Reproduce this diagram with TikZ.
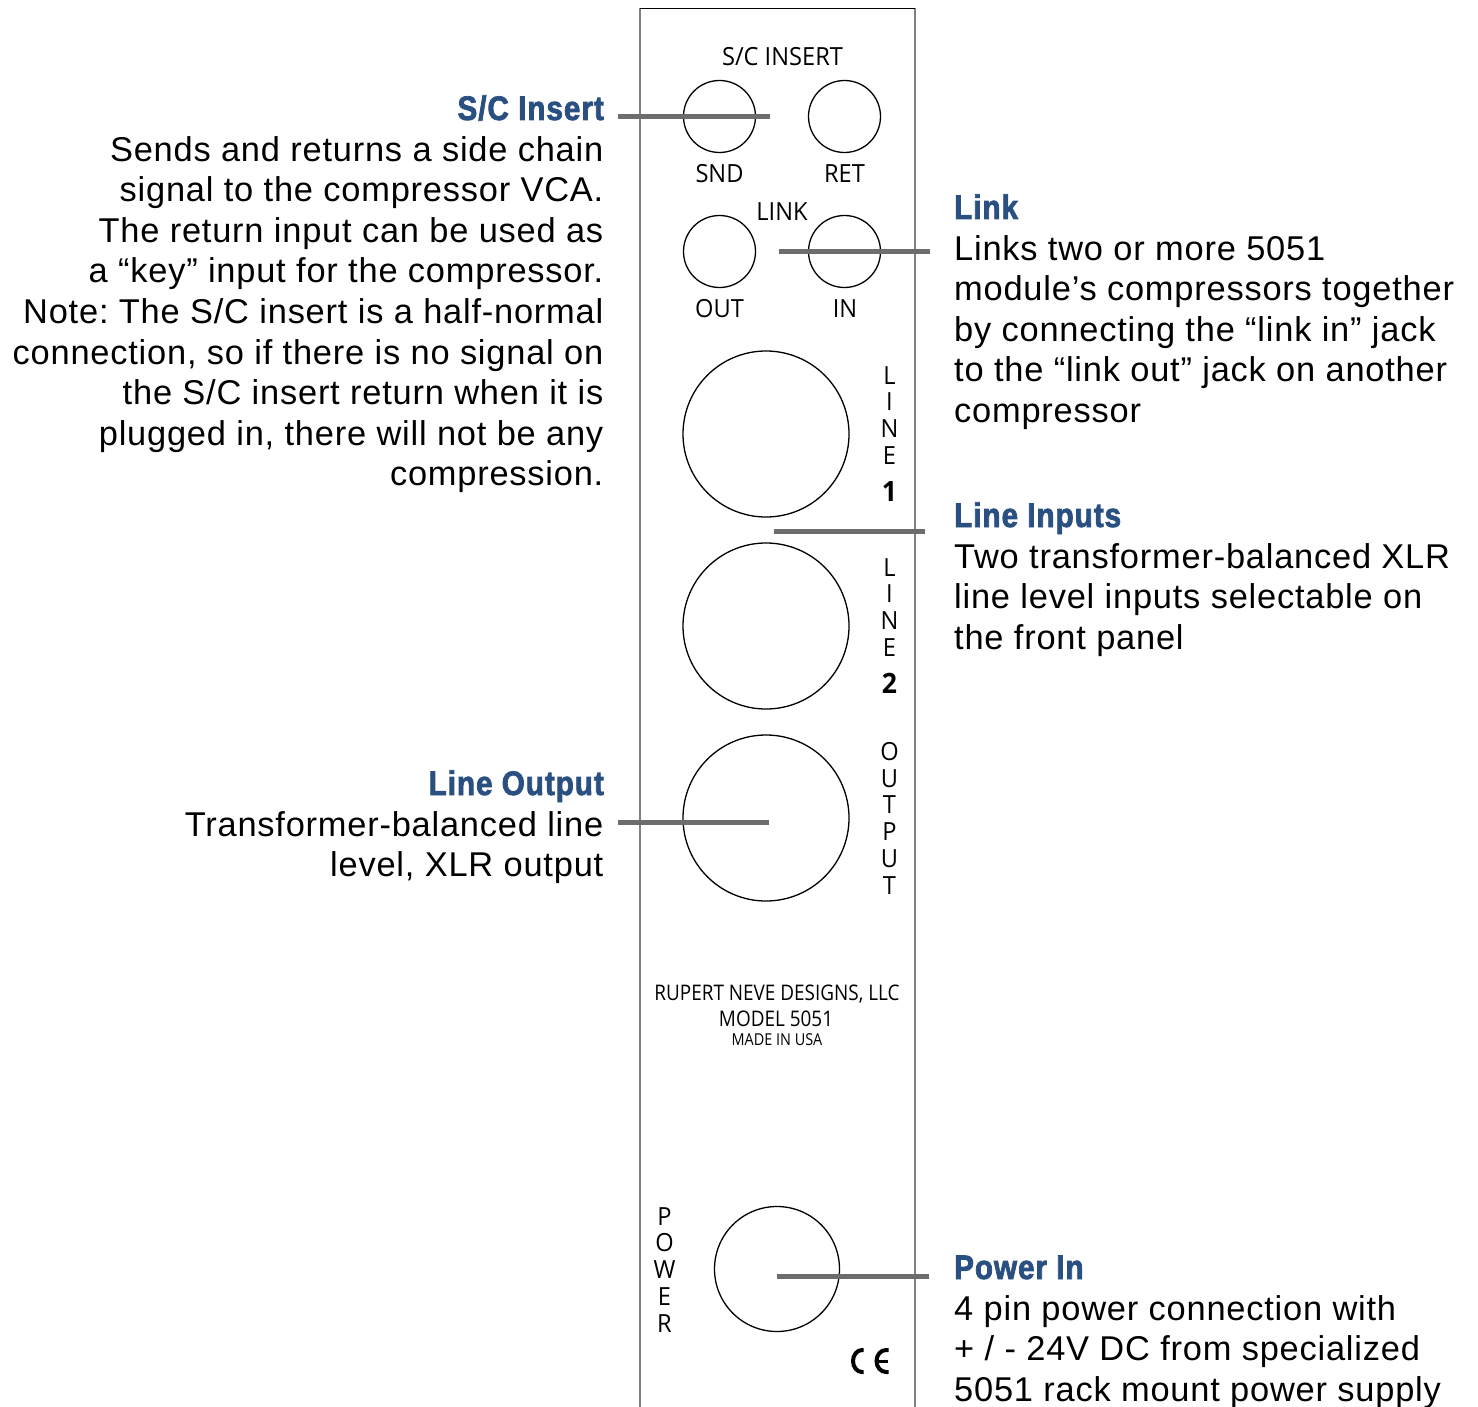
\documentclass[tikz,border=0pt]{standalone}
\usepackage{fontspec}
\setmainfont[LetterSpace=2.3]{Liberation Sans}
\newfontfamily\headf[FakeStretch=0.87,FakeBold=2.2,LetterSpace=3]{Liberation Sans Bold}
\newfontfamily\panelf[FakeStretch=0.945]{Open Sans}
\newfontfamily\panelc[FakeStretch=0.88]{Open Sans}
\newfontfamily\panelb[FakeStretch=0.95]{Open Sans Bold}
\definecolor{headblue}{HTML}{2A5082}
\definecolor{leader}{HTML}{6D6D6D}
\definecolor{panelside}{HTML}{808080}
\tikzset{
  x=1pt,y=-1pt,
  jack/.style={circle,draw=black,line width=1.3pt,inner sep=0pt,fill=none},
  heading/.style={inner sep=0pt,text=headblue,font=\headf\fontsize{34}{34}\selectfont},
  bodyr/.style={inner sep=0pt,anchor=north east,align=right,font=\fontsize{34.4}{40.6}\selectfont\frenchspacing},
  bodyl/.style={inner sep=0pt,anchor=north west,align=left,font=\fontsize{34.4}{40.6}\selectfont\frenchspacing},
  plabel/.style={inner sep=0pt,anchor=base,font=\panelf\fontsize{25}{25}\selectfont},
  pstack/.style={inner sep=0pt,anchor=north,align=center,font=\panelf\fontsize{25}{26.8}\selectfont},
  leaderline/.style={draw=leader,line width=5pt},
  cemark/.style={draw=black,line width=4pt},
}
\begin{document}
\begin{tikzpicture}
\useasboundingbox (0,0) rectangle (1478,1407);
% panel
\coordinate (pbl) at (639.5,1407);
\coordinate (ptl) at (639.5,8.5);
\coordinate (ptr) at (915,8.5);
\coordinate (pbr) at (915,1407);
\draw[panelside,line width=2pt] (pbl) -- (ptl) (ptr) -- (pbr);
\draw[black,line width=1.2pt] (ptl) -- (ptr);
% jacks
\node[jack,minimum size=72pt] (snd) at (719.5,116.5) {};
\node[jack,minimum size=72pt] (ret) at (844.5,116.5) {};
\node[jack,minimum size=72pt] (out) at (719.5,251.5) {};
\node[jack,minimum size=72pt] (in) at (844.5,251.5) {};
\node[jack,minimum size=166pt] (lineone) at (766,434) {};
\node[jack,minimum size=166pt] (linetwo) at (766,626) {};
\node[jack,minimum size=166pt] (output) at (766,818) {};
\node[jack,minimum size=125pt] (power) at (777,1269) {};
% panel labels
\node[plabel] (tsc) at (782.5,65.5) {S/C INSERT};
\node[plabel] (tsnd) at (719.5,182.5) {SND};
\node[plabel] (tret) at (844.5,182.5) {RET};
\node[plabel] (tlink) at (782,221) {LINK};
\node[plabel] (tout) at (719.5,317.5) {OUT};
\node[plabel] (tin) at (845,317.5) {IN};
\node[pstack] (tl1) at (889.5,366) {L\\I\\N\\E};
\node[inner sep=0pt,anchor=base,font=\panelb\fontsize{28}{28}\selectfont] (tl1n) at (889.5,501) {1};
\node[pstack] (tl2) at (889.5,558) {L\\I\\N\\E};
\node[inner sep=0pt,anchor=base,font=\panelb\fontsize{28}{28}\selectfont] (tl2n) at (889.5,693) {2};
\node[pstack] (tout2) at (889.5,742) {O\\U\\T\\P\\U\\T};
\node[pstack] (tpow) at (664.5,1207) {P\\O\\W\\E\\R};
\node[inner sep=0pt,anchor=base,font=\panelc\fontsize{21.5}{21.5}\selectfont] (trn) at (777,1000) {RUPERT NEVE DESIGNS, LLC};
\node[inner sep=0pt,anchor=base,font=\panelc\fontsize{21.5}{21.5}\selectfont] (tmod) at (776,1026) {MODEL 5051};
\node[inner sep=0pt,anchor=base,font=\panelc\fontsize{16.4}{16.4}\selectfont] (tusa) at (777,1045) {MADE IN USA};
% CE mark
\draw[cemark] (863.5,1350) -- (862,1350) arc[start angle=90,end angle=270,x radius=9,y radius=-11] -- (863.5,1372);
\draw[cemark] (888.5,1350) -- (886,1350) arc[start angle=90,end angle=270,x radius=9.5,y radius=-11] -- (888.5,1372);
\draw[draw=black,line width=3pt] (878,1361) -- (888,1361);
% leaders
\coordinate (a1) at (618,116.5); \coordinate (a2) at (770,116.5);
\coordinate (b1) at (779,251.5); \coordinate (b2) at (930,251.5);
\coordinate (c1) at (774,531); \coordinate (c2) at (925,531);
\coordinate (d1) at (618,822); \coordinate (d2) at (769,822);
\coordinate (e1) at (777,1276); \coordinate (e2) at (929,1276);
\draw[leaderline] (a1) -- (a2);
\draw[leaderline] (b1) -- (b2);
\draw[leaderline] (c1) -- (c2);
\draw[leaderline] (d1) -- (d2);
\draw[leaderline] (e1) -- (e2);
% left texts
\node[heading,anchor=base east] (h1) at (604,120) {S/C Insert};
\node[bodyr] (t1) at (603.5,136) {Sends and returns a side chain\\
signal to the compressor VCA.\\
The return input can be used as\\
a “key” input for the compressor.\\
Note: The S/C insert is a half-normal\\
connection, so if there is no signal on\\
the S/C insert return when it is\\
plugged in, there will not be any\\
compression.};
\node[heading,anchor=base east] (h2) at (604,795) {Line Output};
\node[bodyr] (t2) at (603.5,811) {Transformer-balanced line\\ level, XLR output};
% right texts
\node[heading,anchor=base west] (h3) at (954,219) {Link};
\node[bodyl] (t3) at (954,235) {Links two or more 5051\\
module’s compressors together\\
by connecting the “link in” jack\\
to the “link out” jack on another\\
compressor};
\node[heading,anchor=base west] (h4) at (954,527) {Line Inputs};
\node[bodyl] (t4) at (954,543) {Two transformer-balanced XLR\\
line level inputs selectable on\\
the front panel};
\node[heading,anchor=base west] (h5) at (954,1279) {Power In};
\node[bodyl] (t5) at (954,1295) {4 pin power connection with\\
+ / - 24V DC from specialized\\
5051 rack mount power supply};
\end{tikzpicture}
\end{document}
